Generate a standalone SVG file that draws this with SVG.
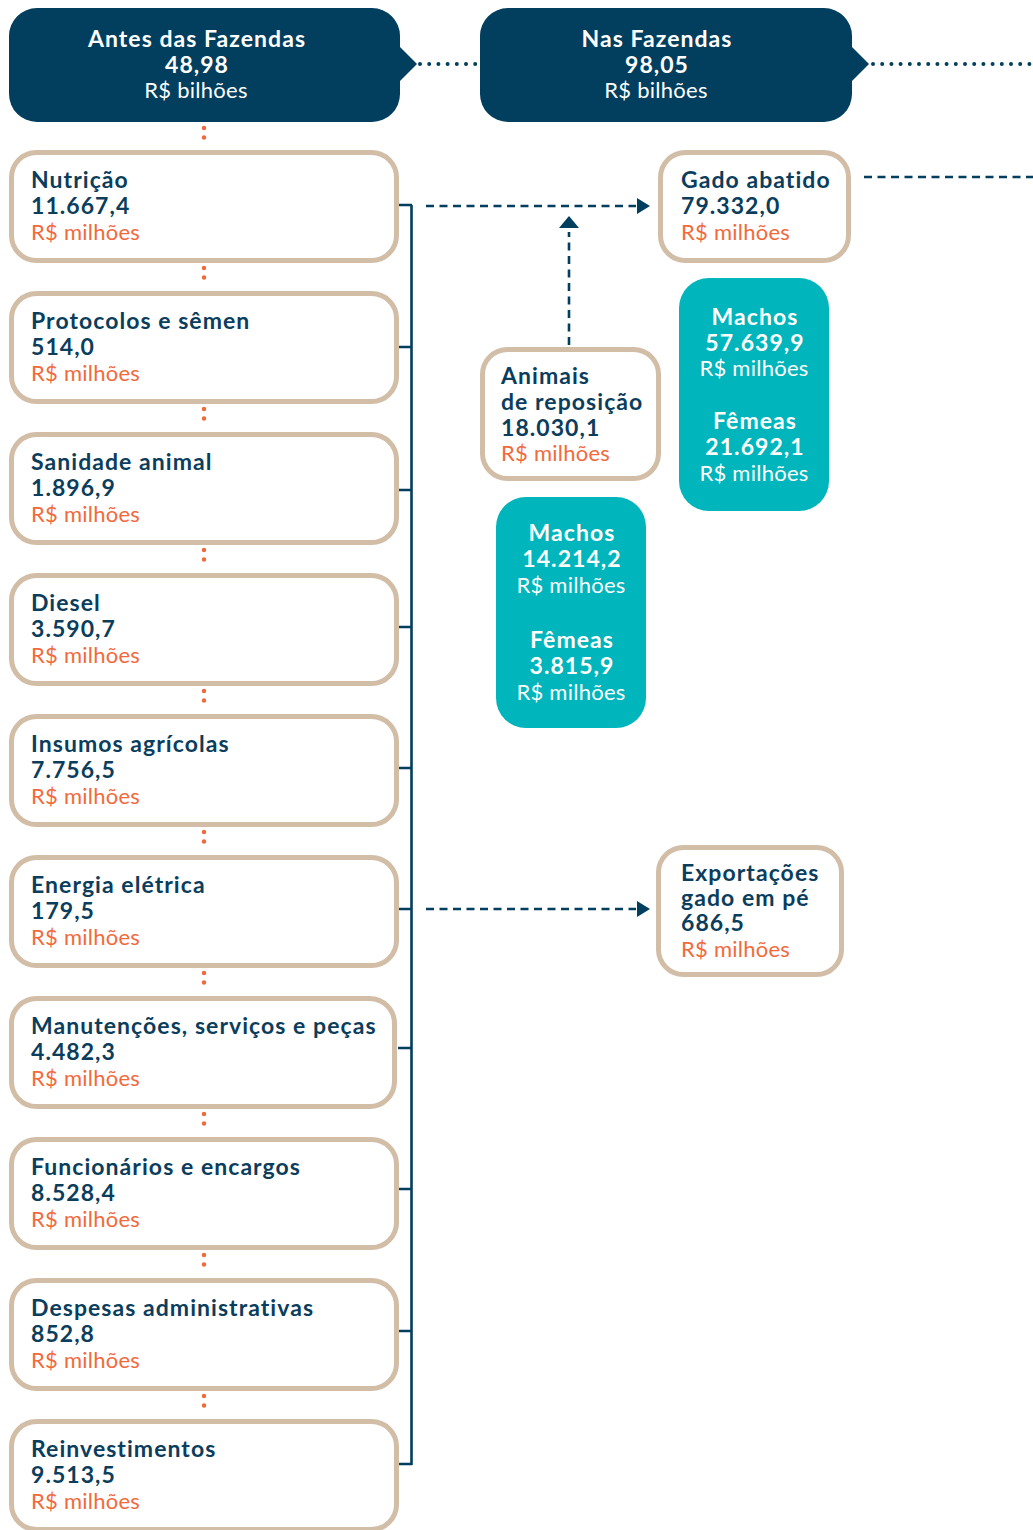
<svg xmlns="http://www.w3.org/2000/svg" width="1033" height="1530" viewBox="0 0 1033 1530">
<style>
text{font-family:Lato,"Liberation Sans",sans-serif;font-size:22px;letter-spacing:0.25px}
.b{font-weight:700;font-size:23px;letter-spacing:1.05px}
.n{fill:#0b3d5c}
.o{fill:#f26a3b}
.w{fill:#ffffff}
.c{text-anchor:middle}
.box{fill:#ffffff;stroke:#d2bda7;stroke-width:5}
.teal{fill:#00b5bb}
.hdr{fill:#023e5e}
.dot{fill:none;stroke:#f26a3b;stroke-width:4.5;stroke-linecap:round;stroke-dasharray:0 9.5}
.ndot{fill:none;stroke:#023e5e;stroke-width:4;stroke-linecap:round;stroke-dasharray:0 9.2}
.br{fill:none;stroke:#023e5e;stroke-width:2.6}
.dash{fill:none;stroke:#023e5e;stroke-width:2.6;stroke-dasharray:8 5.5}
.ah{fill:#023e5e}
</style>
<g id="connectors">
<path class="ndot" d="M420,64 H478"/>
<path class="ndot" d="M873,64 H1033"/>
<path class="dot" d="M204,128 V147"/>
<path class="dot" d="M204,268 V287"/>
<path class="dot" d="M204,409 V428"/>
<path class="dot" d="M204,550 V569"/>
<path class="dot" d="M204,691 V710"/>
<path class="dot" d="M204,832 V851"/>
<path class="dot" d="M204,973 V992"/>
<path class="dot" d="M204,1114 V1133"/>
<path class="dot" d="M204,1255 V1274"/>
<path class="dot" d="M204,1396 V1415"/>
<path class="br" d="M411.5,205 V1465"/>
<path class="br" d="M398,205 H412 M398,347 H412 M398,490 H412 M398,627 H412 M398,768 H412 M398,909 H412 M398,1048 H412 M398,1189 H412 M398,1331 H412 M398,1464 H412"/>
<path class="dash" d="M426,206 H636"/>
<polygon class="ah" points="637,198 650,206 637,214"/>
<path class="dash" d="M426,909 H636"/>
<polygon class="ah" points="637,901 650,909 637,917"/>
<path class="dash" d="M569,345 V232"/>
<polygon class="ah" points="559,228 569,216 579,228"/>
<path class="dash" d="M864,177 H1033"/>
</g>
<g id="hdr-antes">
<path class="hdr" d="M37,8 H372 A28,28 0 0 1 400,36 V47 L417,64 L400,81 V94 A28,28 0 0 1 372,122 H37 A28,28 0 0 1 9,94 V36 A28,28 0 0 1 37,8 Z"/>
<text class="b w c" x="197" y="47">Antes das Fazendas</text>
<text class="b w c" x="197" y="73">48,98</text>
<text class="w c" x="196" y="98">R$ bilhões</text>
</g>
<g id="hdr-nas">
<path class="hdr" d="M508,8 H824 A28,28 0 0 1 852,36 V47 L869,64 L852,81 V94 A28,28 0 0 1 824,122 H508 A28,28 0 0 1 480,94 V36 A28,28 0 0 1 508,8 Z"/>
<text class="b w c" x="657" y="47">Nas Fazendas</text>
<text class="b w c" x="657" y="73">98,05</text>
<text class="w c" x="656" y="98">R$ bilhões</text>
</g>
<g id="n-nutricao">
<rect class="box" x="11.5" y="152.5" width="385" height="108" rx="25"/>
<text class="b n" x="31" y="188">Nutrição</text>
<text class="b n" x="31" y="214">11.667,4</text>
<text class="o" x="31" y="240">R$ milhões</text>
</g>
<g id="n-protocolos">
<rect class="box" x="11.5" y="293.5" width="385" height="108" rx="25"/>
<text class="b n" x="31" y="329">Protocolos e sêmen</text>
<text class="b n" x="31" y="355">514,0</text>
<text class="o" x="31" y="381">R$ milhões</text>
</g>
<g id="n-sanidade">
<rect class="box" x="11.5" y="434.5" width="385" height="108" rx="25"/>
<text class="b n" x="31" y="470">Sanidade animal</text>
<text class="b n" x="31" y="496">1.896,9</text>
<text class="o" x="31" y="522">R$ milhões</text>
</g>
<g id="n-diesel">
<rect class="box" x="11.5" y="575.5" width="385" height="108" rx="25"/>
<text class="b n" x="31" y="611">Diesel</text>
<text class="b n" x="31" y="637">3.590,7</text>
<text class="o" x="31" y="663">R$ milhões</text>
</g>
<g id="n-insumos">
<rect class="box" x="11.5" y="716.5" width="385" height="108" rx="25"/>
<text class="b n" x="31" y="752">Insumos agrícolas</text>
<text class="b n" x="31" y="778">7.756,5</text>
<text class="o" x="31" y="804">R$ milhões</text>
</g>
<g id="n-energia">
<rect class="box" x="11.5" y="857.5" width="385" height="108" rx="25"/>
<text class="b n" x="31" y="893">Energia elétrica</text>
<text class="b n" x="31" y="919">179,5</text>
<text class="o" x="31" y="945">R$ milhões</text>
</g>
<g id="n-manutencoes">
<rect class="box" x="11.5" y="998.5" width="383" height="108" rx="25"/>
<text class="b n" x="31" y="1034">Manutenções, serviços e peças</text>
<text class="b n" x="31" y="1060">4.482,3</text>
<text class="o" x="31" y="1086">R$ milhões</text>
</g>
<g id="n-funcionarios">
<rect class="box" x="11.5" y="1139.5" width="385" height="108" rx="25"/>
<text class="b n" x="31" y="1175">Funcionários e encargos</text>
<text class="b n" x="31" y="1201">8.528,4</text>
<text class="o" x="31" y="1227">R$ milhões</text>
</g>
<g id="n-despesas">
<rect class="box" x="11.5" y="1280.5" width="385" height="108" rx="25"/>
<text class="b n" x="31" y="1316">Despesas administrativas</text>
<text class="b n" x="31" y="1342">852,8</text>
<text class="o" x="31" y="1368">R$ milhões</text>
</g>
<g id="n-reinvestimentos">
<rect class="box" x="11.5" y="1421.5" width="385" height="108" rx="25"/>
<text class="b n" x="31" y="1457">Reinvestimentos</text>
<text class="b n" x="31" y="1483">9.513,5</text>
<text class="o" x="31" y="1509">R$ milhões</text>
</g>
<g id="n-gado">
<rect class="box" x="660.5" y="152.5" width="188" height="108" rx="25"/>
<text class="b n" x="681" y="188">Gado abatido</text>
<text class="b n" x="681" y="214">79.332,0</text>
<text class="o" x="681" y="240">R$ milhões</text>
</g>
<g id="n-gado-sexo">
<rect class="teal" x="679" y="278" width="150" height="233" rx="30"/>
<text class="b w c" x="755" y="325">Machos</text>
<text class="b w c" x="755" y="351">57.639,9</text>
<text class="w c" x="754" y="376">R$ milhões</text>
<text class="b w c" x="755" y="429">Fêmeas</text>
<text class="b w c" x="755" y="455">21.692,1</text>
<text class="w c" x="754" y="481">R$ milhões</text>
</g>
<g id="n-animais">
<rect class="box" x="482.5" y="349.5" width="176" height="129" rx="25"/>
<text class="b n" x="501" y="384">Animais</text>
<text class="b n" x="501" y="410">de reposição</text>
<text class="b n" x="501" y="436">18.030,1</text>
<text class="o" x="501" y="461">R$ milhões</text>
</g>
<g id="n-animais-sexo">
<rect class="teal" x="496" y="497" width="150" height="231" rx="30"/>
<text class="b w c" x="572" y="541">Machos</text>
<text class="b w c" x="572" y="567">14.214,2</text>
<text class="w c" x="571" y="593">R$ milhões</text>
<text class="b w c" x="572" y="648">Fêmeas</text>
<text class="b w c" x="572" y="674">3.815,9</text>
<text class="w c" x="571" y="700">R$ milhões</text>
</g>
<g id="n-exportacoes">
<rect class="box" x="658.5" y="847.5" width="183" height="127" rx="25"/>
<text class="b n" x="681" y="881">Exportações</text>
<text class="b n" x="681" y="906">gado em pé</text>
<text class="b n" x="681" y="931">686,5</text>
<text class="o" x="681" y="957">R$ milhões</text>
</g>
</svg>
